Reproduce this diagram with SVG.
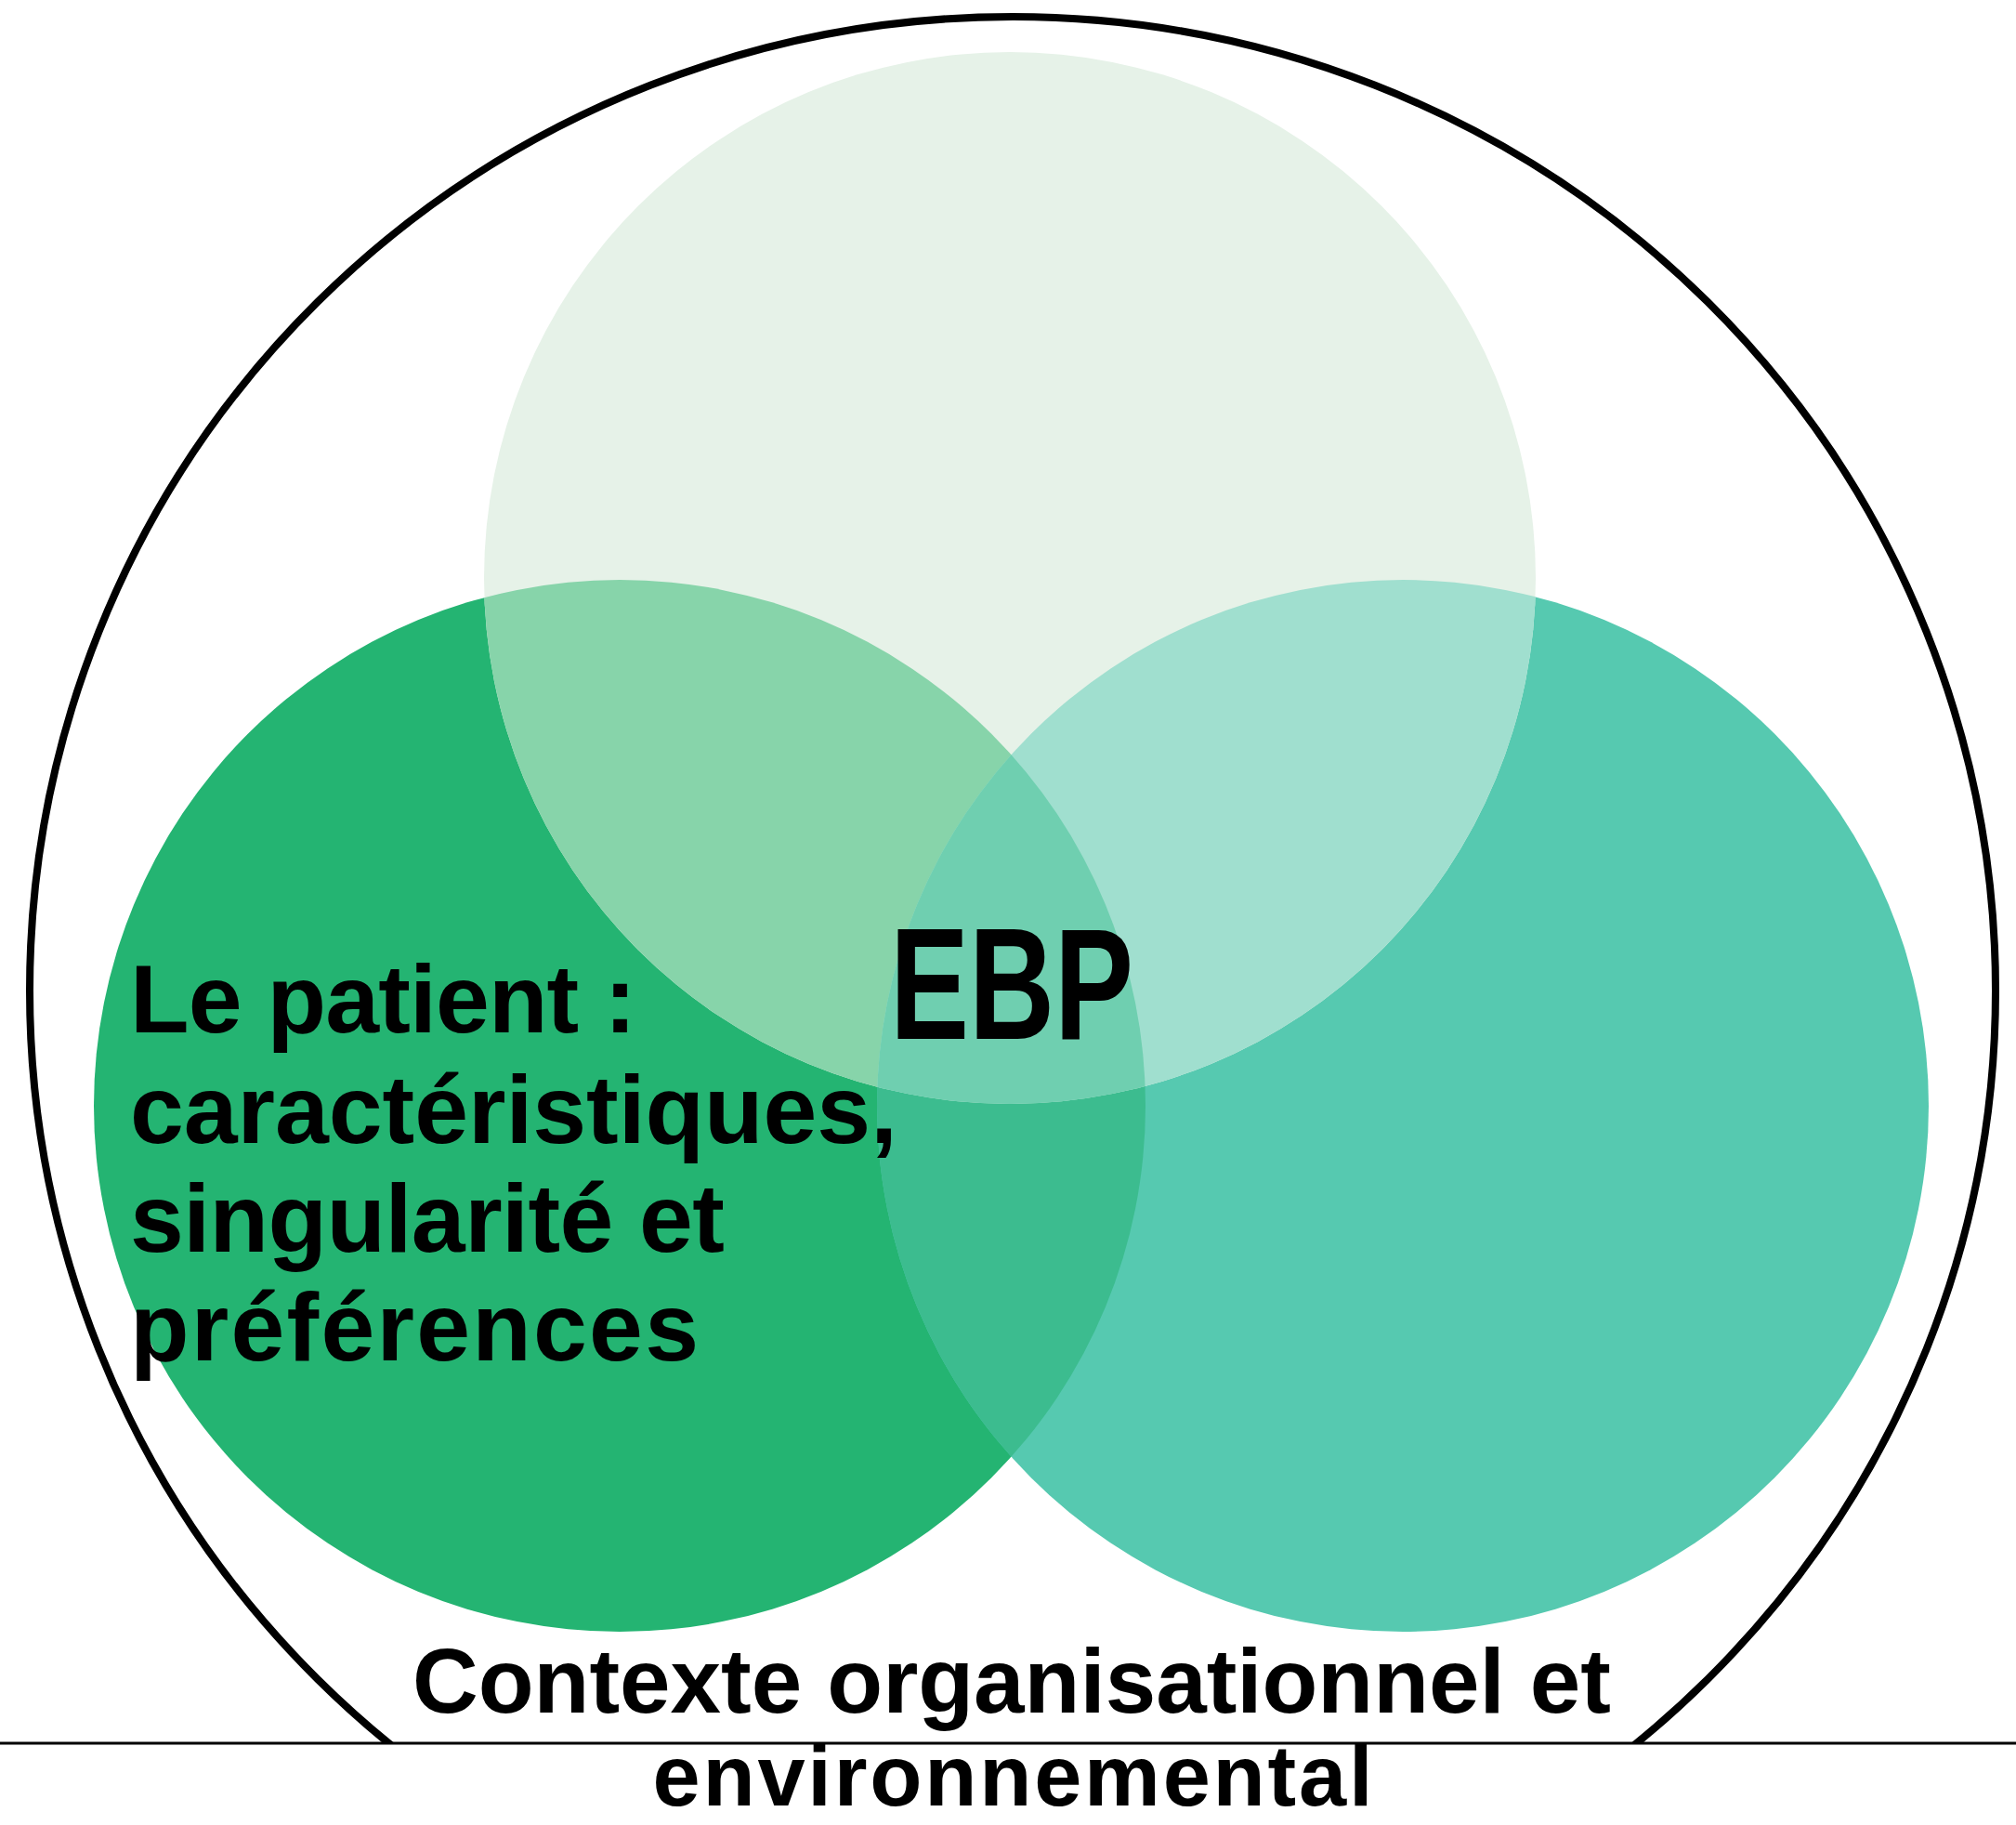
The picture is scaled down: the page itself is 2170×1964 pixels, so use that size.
<svg xmlns="http://www.w3.org/2000/svg" width="2170" height="1964" viewBox="0 0 2170 1964">
<style>
.t{font-family:"Liberation Sans",Arial,sans-serif;font-weight:bold;fill:#000}
.lbl{font-size:104px}
.ctx{font-size:98px;text-anchor:middle}
.ctx2{font-size:92px;text-anchor:middle}
.ebp{font-size:170px;text-anchor:middle}
</style>
<defs>
<clipPath id="clipTop"><circle cx="1087" cy="622" r="566"/></clipPath>
<clipPath id="clipRight"><circle cx="1510" cy="1190" r="566"/></clipPath>
<clipPath id="clipAbove"><rect x="0" y="0" width="2170" height="1875"/></clipPath>
</defs>
<rect x="0" y="0" width="2170" height="1964" fill="#fff"/>
<g id="context-circle">
<ellipse cx="1090" cy="1066" rx="1058" ry="1048" fill="none" stroke="#000" stroke-width="8" clip-path="url(#clipAbove)"/>
<line x1="0" y1="1876" x2="2170" y2="1876" stroke="#000" stroke-width="3"/>
</g>
<g id="circle-left"><circle cx="667" cy="1190" r="566" fill="#24b472"/></g>
<g id="circle-right"><circle cx="1510" cy="1190" r="566" fill="#56c9b0"/></g>
<g id="circle-top"><circle cx="1087" cy="622" r="566" fill="#e6f2e8"/></g>
<g id="overlaps">
<g clip-path="url(#clipRight)"><circle cx="667" cy="1190" r="566" fill="#3cbc8f"/></g>
<g clip-path="url(#clipTop)"><circle cx="667" cy="1190" r="566" fill="#87d4aa"/></g>
<g clip-path="url(#clipTop)"><circle cx="1510" cy="1190" r="566" fill="#a0dfcf"/></g>
<g clip-path="url(#clipTop)"><g clip-path="url(#clipRight)"><circle cx="667" cy="1190" r="566" fill="#6fcfb0"/></g></g>
</g>
<g id="label-ebp"><text class="t ebp" x="1089" y="1118" textLength="262" lengthAdjust="spacingAndGlyphs">EBP</text></g>
<g id="label-patient">
<text class="t lbl" x="140" y="1111" textLength="545">Le patient :</text>
<text class="t lbl" x="140" y="1230" textLength="826">caractéristiques,</text>
<text class="t lbl" x="140" y="1347" textLength="640">singularité et</text>
<text class="t lbl" x="140" y="1464" textLength="612">préférences</text>
</g>
<g id="label-context">
<text class="t ctx" x="1089" y="1843" textLength="1290">Contexte organisationnel et</text>
<text class="t ctx2" x="1090" y="1943" textLength="775">environnemental</text>
</g>
</svg>
